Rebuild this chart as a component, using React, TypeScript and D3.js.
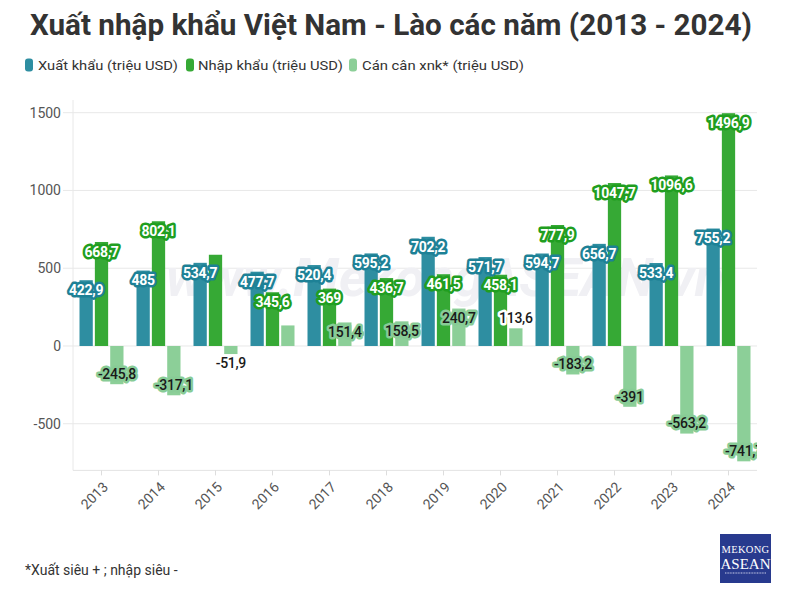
import React from "react";
import * as d3 from "d3";

const years = ["2013","2014","2015","2016","2017","2018","2019","2020","2021","2022","2023","2024"];
const exportsV = [422.9, 485, 534.7, 477.7, 520.4, 595.2, 702.2, 571.7, 594.7, 656.7, 533.4, 755.2];
const importsV = [668.7, 802.1, 586.6, 345.6, 369, 436.7, 461.5, 458.1, 777.9, 1047.7, 1096.6, 1496.9];
const balanceV = [-245.8, -317.1, -51.9, 132.1, 151.4, 158.5, 240.7, 113.6, -183.2, -391, -563.2, -741.7];
const yTicks = [-500, 0, 500, 1000, 1500];
const seriesNames = ["Xuất khẩu (triệu USD)", "Nhập khẩu (triệu USD)", "Cán cân xnk* (triệu USD)"];
const hiddenLabels = ["imp-2015", "bal-2016"];

const W = 794, H = 602;
const left = 73, right = 757, top = 112.7, bottom = 470.4;

const COLORS = {
  exp: "#2e8ea1",
  imp: "#36a935",
  bal: "#8ccf98",
};
const HALO = {
  exp: "#1d8196",
  imp: "#209e20",
  bal: "#88cc96",
};

const fmt = (v: number) => {
  const s = Number.isInteger(v) ? String(v) : v.toFixed(1);
  return s.replace(".", ",");
};

export default function App() {
  const x = d3.scaleBand<string>().domain(years).range([left, right]).padding(0);
  const keys = ["exp", "imp", "bal"] as const;
  const xs = d3.scaleBand<string>().domain(keys as unknown as string[]).range([6.5, 50.5]).paddingInner(0.135);
  const y = d3.scaleLinear().domain([-800, 1500]).range([bottom, top]);
  const seriesData: Record<string, number[]> = { exp: exportsV, imp: importsV, bal: balanceV };
  const font = "Roboto, 'Noto Sans', sans-serif";

  const bars: React.ReactNode[] = [];
  const labels: React.ReactNode[] = [];
  years.forEach((yr, i) => {
    keys.forEach((k) => {
      const v = seriesData[k][i];
      const bx = (x(yr) as number) + (xs(k) as number);
      const bw = xs.bandwidth();
      const y0 = y(0), y1 = y(v);
      const h = Math.abs(y1 - y0);
      bars.push(
        <rect key={`b-${k}-${yr}`} x={bx} y={Math.min(y0, y1)} width={bw} height={h} fill={COLORS[k]} />
      );
      if (hiddenLabels.includes(`${k}-${yr}`)) return;
      const inside = h >= 20;
      let ly: number;
      if (v >= 0) ly = inside ? y1 + 10 : y1 - 10;
      else ly = inside ? y1 - 10 : y1 + 9;
      const cx = bx + bw / 2;
      const halo = inside ? HALO[k] : "#ffffff";
      const fill = k === "bal" ? "#1a1a1a" : "#ffffff";
      labels.push(
        <text key={`l-${k}-${yr}`} x={cx} y={ly} dy="0.35em" textAnchor="middle"
          fontFamily={font} fontWeight={k === "bal" ? 500 : 700} fontSize={14}
          fill={fill} stroke={halo} strokeWidth={5} strokeLinejoin="round" paintOrder="stroke"
          letterSpacing={-0.3}>
          {fmt(v)}
        </text>
      );
    });
  });

  const legendItems = [
    { k: "exp", mx: 25, tx: 38, tl: 140 },
    { k: "imp", mx: 186, tx: 198, tl: 145 },
    { k: "bal", mx: 349, tx: 362, tl: 162 },
  ];

  return (
    <svg width={W} height={H} viewBox={`0 0 ${W} ${H}`} style={{ display: "block", position: "absolute", left: 0, top: 0, background: "#fff" }}>
      <defs>
        <clipPath id="plotclip">
          <rect x={left - 20} y={0} width={right - left + 20} height={H} />
        </clipPath>
      </defs>
      <rect x={0} y={0} width={W} height={H} fill="#fff" />
      <text x={391} y={35} textAnchor="middle" fontFamily={font} fontWeight={700} fontSize={29}
        fill="#333" textLength={722} lengthAdjust="spacingAndGlyphs">
        Xuất nhập khẩu Việt Nam - Lào các năm (2013 - 2024)
      </text>
      {legendItems.map((it, i) => (
        <g key={it.k}>
          <rect x={it.mx} y={58.5} width={8} height={13} rx={3} fill={COLORS[it.k as "exp"]} />
          <text x={it.tx} y={70} fontFamily={font} fontSize={13.5} fill="#333"
            textLength={it.tl} lengthAdjust="spacingAndGlyphs">{seriesNames[i]}</text>
        </g>
      ))}
      {yTicks.map((t) => (
        <g key={t}>
          <line x1={63} x2={right} y1={y(t)} y2={y(t)} stroke="#e8e8e8" strokeWidth={1} />
          <text x={61} y={y(t)} dy="0.35em" textAnchor="end" fontFamily={font} fontSize={14} fill="#555">{t}</text>
        </g>
      ))}
      <line x1={left} x2={left} y1={100} y2={bottom} stroke="#e8e8e8" />
      <line x1={left} x2={right} y1={bottom} y2={bottom} stroke="#e4e4e4" />
      <text x={445} y={296} textAnchor="middle" fontFamily={font} fontWeight={700} fontStyle="italic"
        fontSize={54} fill="#f0f0f4">www.MekongASEAN.vn</text>
      {bars}
      <g clipPath="url(#plotclip)">{labels}</g>
      {years.map((yr) => {
        const cx = (x(yr) as number) + x.bandwidth() / 2;
        return (
          <g key={`t-${yr}`}>
            <line x1={cx} x2={cx} y1={bottom} y2={bottom + 5} stroke="#ddd" />
            <text transform={`translate(${cx + 4},${bottom + 14}) rotate(-45)`} textAnchor="end" dy="0.35em"
              fontFamily={font} fontSize={14} fill="#555">{yr}</text>
          </g>
        );
      })}
      <text x={25} y={575} fontFamily={font} fontSize={14} fill="#333">*Xuất siêu + ; nhập siêu -</text>
      <g>
        <rect x={720} y={534} width={51} height={49} fill="#283a8e" />
        <text x={745.5} y={553} textAnchor="middle" fontFamily="'Liberation Serif', serif" fontSize={10.5} fill="#fff" letterSpacing={0.3}>MEKONG</text>
        <text x={745.5} y={569} textAnchor="middle" fontFamily="'Liberation Serif', serif" fontSize={15} fill="#fff">ASEAN</text>
        <line x1={725} x2={766} y1={573} y2={573} stroke="#c9cde8" strokeWidth={1} strokeDasharray="1 0.6" />
      </g>
    </svg>
  );
}
